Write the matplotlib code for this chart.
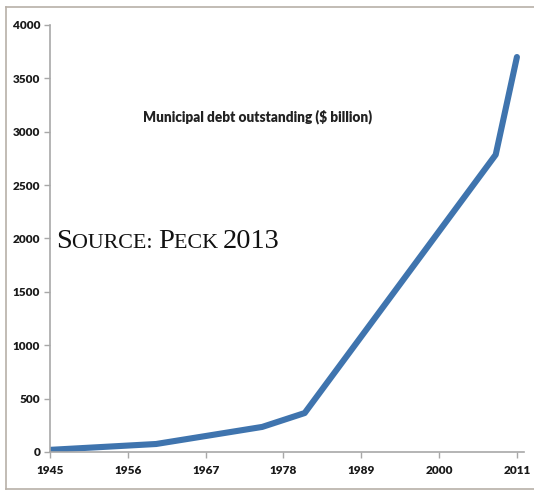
import matplotlib
matplotlib.use("Agg")
import matplotlib.pyplot as plt
from matplotlib.lines import Line2D

years = [1945, 1960, 1975, 1981, 2008, 2011]
debt = [20, 75, 235, 365, 2785, 3700]
xticks = [1945, 1956, 1967, 1978, 1989, 2000, 2011]
yticks = [0, 500, 1000, 1500, 2000, 2500, 3000, 3500, 4000]
title = "Municipal debt outstanding ($ billion)"

W, H = 534, 491
fig = plt.figure(figsize=(W / 100, H / 100), dpi=100)
fig.patch.set_facecolor("white")

# outer frame (left, top, bottom only)
fc = "#b8b0a8"
for xs, ys in [((6, 6), (7, 489)), ((6, 534), (7, 7)), ((6, 534), (489, 489))]:
    fig.lines.append(Line2D([x / W for x in xs], [1 - y / H for y in ys],
                            transform=fig.transFigure, color=fc, linewidth=1.2))

ax = fig.add_axes([50 / W, 1 - 452 / H, (524 - 50) / W, (452 - 25) / H])
ax.plot(years, debt, color="#3f74ae", linewidth=4.4, solid_capstyle="round",
        solid_joinstyle="round")
ax.set_xlim(1945, 2012)
ax.set_ylim(0, 4000)
ax.set_xticks(xticks)
ax.set_yticks(yticks)
for s in ["top", "right"]:
    ax.spines[s].set_visible(False)
for s in ["left", "bottom"]:
    ax.spines[s].set_color("#a8a8a8")
    ax.spines[s].set_linewidth(1.2)
ax.tick_params(axis="both", colors="#a8a8a8", length=4, width=1, direction="out")
for lab in ax.get_xticklabels() + ax.get_yticklabels():
    lab.set_fontfamily("Lato")
    lab.set_fontweight("heavy")
    lab.set_fontsize(8.5)
    lab.set_color("#1a1a1a")
ax.tick_params(axis="x", pad=5)
ax.tick_params(axis="y", pad=3)

fig.text(258 / W, 1 - 117 / H, title, ha="center", va="center",
         fontfamily="Lato", fontweight="heavy", fontsize=9.8, color="#222222")

# SOURCE: PECK 2013 in small caps
renderer = fig.canvas.get_renderer()
pieces = [("S", 20.5), ("OURCE: ", 15.8), ("P", 20.5), ("ECK ", 15.8), ("2013", 20.5)]
x = 56
ybase = 1 - 248 / H
for txt, size in pieces:
    t = fig.text(x / W, ybase, txt, ha="left", va="baseline",
                 fontfamily="Liberation Serif", fontsize=size, color="#111111")
    bb = t.get_window_extent(renderer=renderer)
    x += bb.width

fig.savefig("out.png", dpi=100, facecolor="white")
